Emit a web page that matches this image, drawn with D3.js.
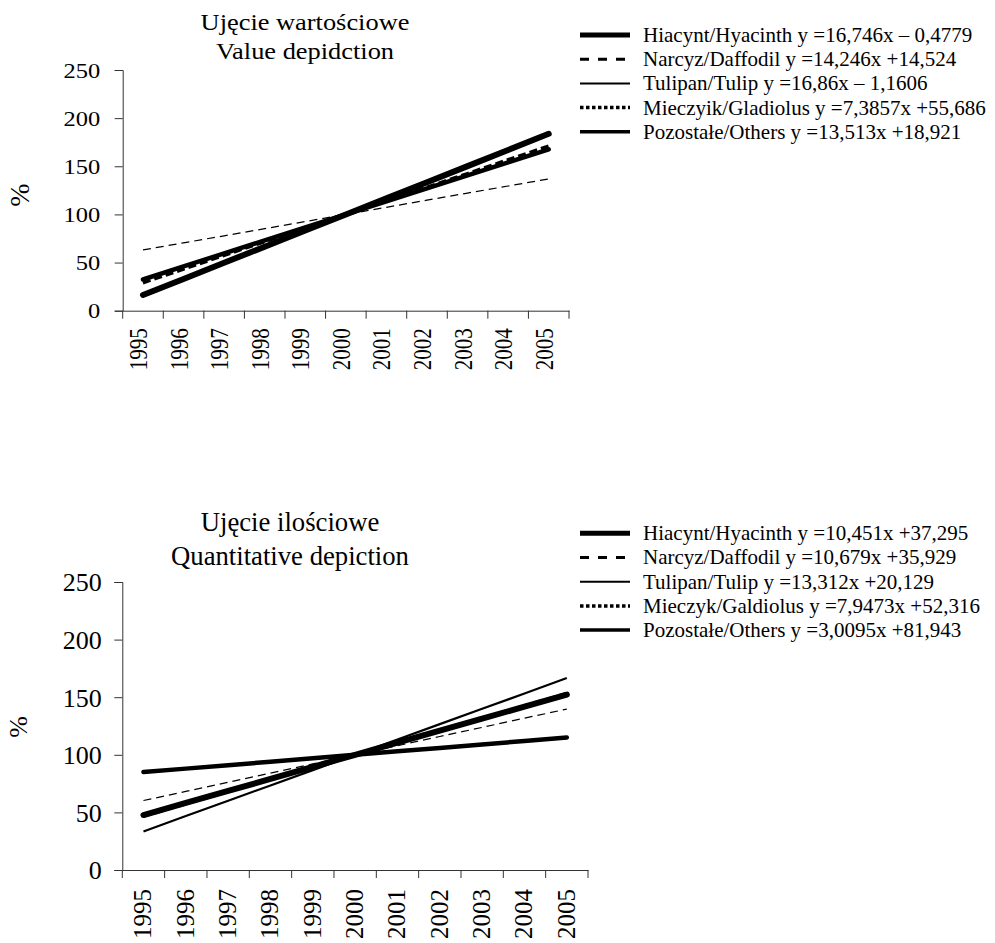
<!DOCTYPE html>
<html>
<head>
<meta charset="utf-8">
<script src="https://cdn.jsdelivr.net/npm/d3@7"></script>
<style>
  html, body { margin: 0; padding: 0; background: #fff; }
  svg { display: block; }
  svg text { font-family: "Liberation Serif", "Times New Roman", Times, serif; fill: #000; }
</style>
</head>
<body>
<svg id="chart" width="995" height="943"></svg>
<script>
// ---- data ----
const years = ["1995","1996","1997","1998","1999","2000","2001","2002","2003","2004","2005"];
const yTicks = [0, 50, 100, 150, 200, 250];
const seriesNames = ["Hiacynt/Hyacinth", "Narcyz/Daffodil", "Tulipan/Tulip", "Mieczyik/Gladiolus", "Pozostałe/Others"];
const seriesNamesQ = ["Hiacynt/Hyacinth", "Narcyz/Daffodil", "Tulipan/Tulip", "Mieczyk/Galdiolus", "Pozostałe/Others"];

// Value depiction (trend values per year)
const valHiacynt = [16.3, 33.0, 49.8, 66.5, 83.3, 100.0, 116.7, 133.5, 150.2, 167.0, 183.7];
const valNarcyz  = [28.8, 43.0, 57.3, 71.5, 85.8, 100.0, 114.2, 128.5, 142.7, 157.0, 171.2];
const valTulipan = [15.7, 32.6, 49.4, 66.3, 83.1, 100.0, 116.9, 133.7, 150.6, 167.4, 184.3];
const valMieczyk = [63.1, 70.5, 77.8, 85.2, 92.6, 100.0, 107.4, 114.8, 122.2, 129.5, 136.9];
const valOthers  = [32.4, 46.0, 59.5, 73.0, 86.5, 100.0, 113.5, 127.0, 140.5, 154.1, 167.6];
const valEquations = ["y =16,746x – 0,4779", "y =14,246x +14,524", "y =16,86x – 1,1606", "y =7,3857x +55,686", "y =13,513x +18,921"];

// Quantitative depiction
const qtyHiacynt = [47.7, 58.2, 68.6, 79.1, 89.6, 100.0, 110.5, 120.9, 131.4, 141.8, 152.3];
const qtyNarcyz  = [46.6, 57.3, 68.0, 78.6, 89.3, 100.0, 110.7, 121.4, 132.0, 142.7, 153.4];
const qtyTulipan = [33.4, 46.8, 60.1, 73.4, 86.7, 100.0, 113.3, 126.6, 139.9, 153.2, 166.6];
const qtyMieczyk = [60.3, 68.2, 76.2, 84.1, 92.1, 100.0, 107.9, 115.9, 123.8, 131.8, 139.7];
const qtyOthers  = [85.0, 88.0, 91.0, 94.0, 97.0, 100.0, 103.0, 106.0, 109.0, 112.0, 115.1];
const qtyEquations = ["y =10,451x +37,295", "y =10,679x +35,929", "y =13,312x +20,129", "y =7,9473x +52,316", "y =3,0095x +81,943"];

// ---- styles ----
const chartStyles = [
  {w: 6,   dash: null,  cap: "round"},
  {w: 3,   dash: "8,4", cap: "butt"},
  {w: 2.2, dash: null,  cap: "butt"},
  {w: 1.2, dash: "8,5", cap: "butt"},
  {w: 4.5, dash: null,  cap: "round"}
];
const legendStyles = [
  {w: 5,   dash: null},
  {w: 3,   dash: "9,9"},
  {w: 2,   dash: null},
  {w: 3.5, dash: "3.5,2.5"},
  {w: 3.5, dash: null}
];

const svg = d3.select("#chart");

function drawChart(cfg) {
  const g = svg.append("g");
  const x = d3.scaleBand().domain(years).range([cfg.x0, cfg.x1]).padding(0);
  const y = d3.scaleLinear().domain([0, 250]).range([cfg.yBottom, cfg.yTop]);

  // titles
  cfg.titles.forEach((t, i) => {
    g.append("text")
      .attr("transform", `translate(${cfg.titleX},${cfg.titleYs[i]}) scale(1,${cfg.sy})`)
      .attr("text-anchor", "middle").attr("font-size", cfg.titleSize).text(t);
  });

  // y axis
  const ya = g.append("g").attr("transform", `translate(${cfg.x0},0)`)
    .call(d3.axisLeft(y).tickValues(yTicks).tickSize(8).tickFormat(d3.format("d")));
  ya.attr("font-family", null);
  ya.select(".domain").attr("stroke", "#333");
  ya.selectAll(".tick line").attr("stroke", "#333");
  ya.selectAll(".tick text")
    .attr("x", 0).attr("dy", "0.34em")
    .attr("transform", `translate(${-cfg.yLabGap},0) scale(1,${cfg.sy})`)
    .attr("font-size", cfg.tickSize).attr("text-anchor", "end");

  // x axis: labels centred in bands, ticks at band edges
  const xa = g.append("g").attr("transform", `translate(0,${cfg.yBottom})`)
    .call(d3.axisBottom(x).tickSize(0).tickSizeOuter(0));
  xa.attr("font-family", null);
  xa.select(".domain").attr("stroke", "#333");
  xa.selectAll(".tick text")
    .attr("x", 0).attr("y", 0).attr("dy", 0)
    .attr("transform", `translate(${cfg.xLabOff},${cfg.xLabGap}) rotate(-90) scale(${cfg.sy},1)`)
    .attr("text-anchor", "end").attr("font-size", cfg.yearSize);
  const edges = years.map(d => x(d)).concat([x(years[years.length - 1]) + x.bandwidth()]);
  xa.selectAll(".edge").data(edges).enter().append("line").attr("class", "edge")
    .attr("x1", d => d).attr("x2", d => d).attr("y1", 0).attr("y2", 8).attr("stroke", "#333");

  // % label
  g.append("text").attr("transform", `translate(${cfg.pctX},${cfg.pctY}) rotate(-90)`)
    .attr("text-anchor", "middle").attr("font-size", cfg.pctSize).text("%");

  // lines
  const line = d3.line().x((d, i) => x(years[i]) + x.bandwidth() / 2).y(d => y(d));
  cfg.series.forEach((s, i) => {
    const st = chartStyles[i];
    g.append("path").datum(s).attr("d", line)
      .attr("fill", "none").attr("stroke", "#000").attr("stroke-width", st.w)
      .attr("stroke-linecap", st.cap).attr("stroke-dasharray", st.dash);
  });

  // legend
  cfg.names.forEach((n, i) => {
    const ly = cfg.legY + i * cfg.legGap;
    const st = legendStyles[i];
    g.append("line").attr("x1", 580).attr("x2", 630).attr("y1", ly).attr("y2", ly)
      .attr("stroke", "#000").attr("stroke-width", st.w).attr("stroke-dasharray", st.dash);
    g.append("text").attr("x", 643).attr("y", ly).attr("dy", "0.33em")
      .attr("font-size", 21).text(n + " " + cfg.eqs[i]);
  });
}

drawChart({
  x0: 122.7, x1: 569, yTop: 70, yBottom: 310.7, sy: 0.86,
  titles: ["Ujęcie wartościowe", "Value depidction"], titleX: 305, titleYs: [29.5, 58.5], titleSize: 26.4,
  tickSize: 24.5, yLabGap: 22.5, yearSize: 24.5, xLabOff: 4, xLabGap: 17.5,
  pctX: 29, pctY: 195, pctSize: 28,
  series: [valHiacynt, valNarcyz, valTulipan, valMieczyk, valOthers],
  names: seriesNames, eqs: valEquations, legY: 35, legGap: 24.2
});

drawChart({
  x0: 122.3, x1: 588, yTop: 582, yBottom: 870, sy: 1.0,
  titles: ["Ujęcie ilościowe", "Quantitative depiction"], titleX: 290, titleYs: [531, 565], titleSize: 26.7,
  tickSize: 26, yLabGap: 20.5, yearSize: 25, xLabOff: 8, xLabGap: 19,
  pctX: 27, pctY: 727, pctSize: 26,
  series: [qtyHiacynt, qtyNarcyz, qtyTulipan, qtyMieczyk, qtyOthers],
  names: seriesNamesQ, eqs: qtyEquations, legY: 533.3, legGap: 24.2
});
</script>
</body>
</html>
